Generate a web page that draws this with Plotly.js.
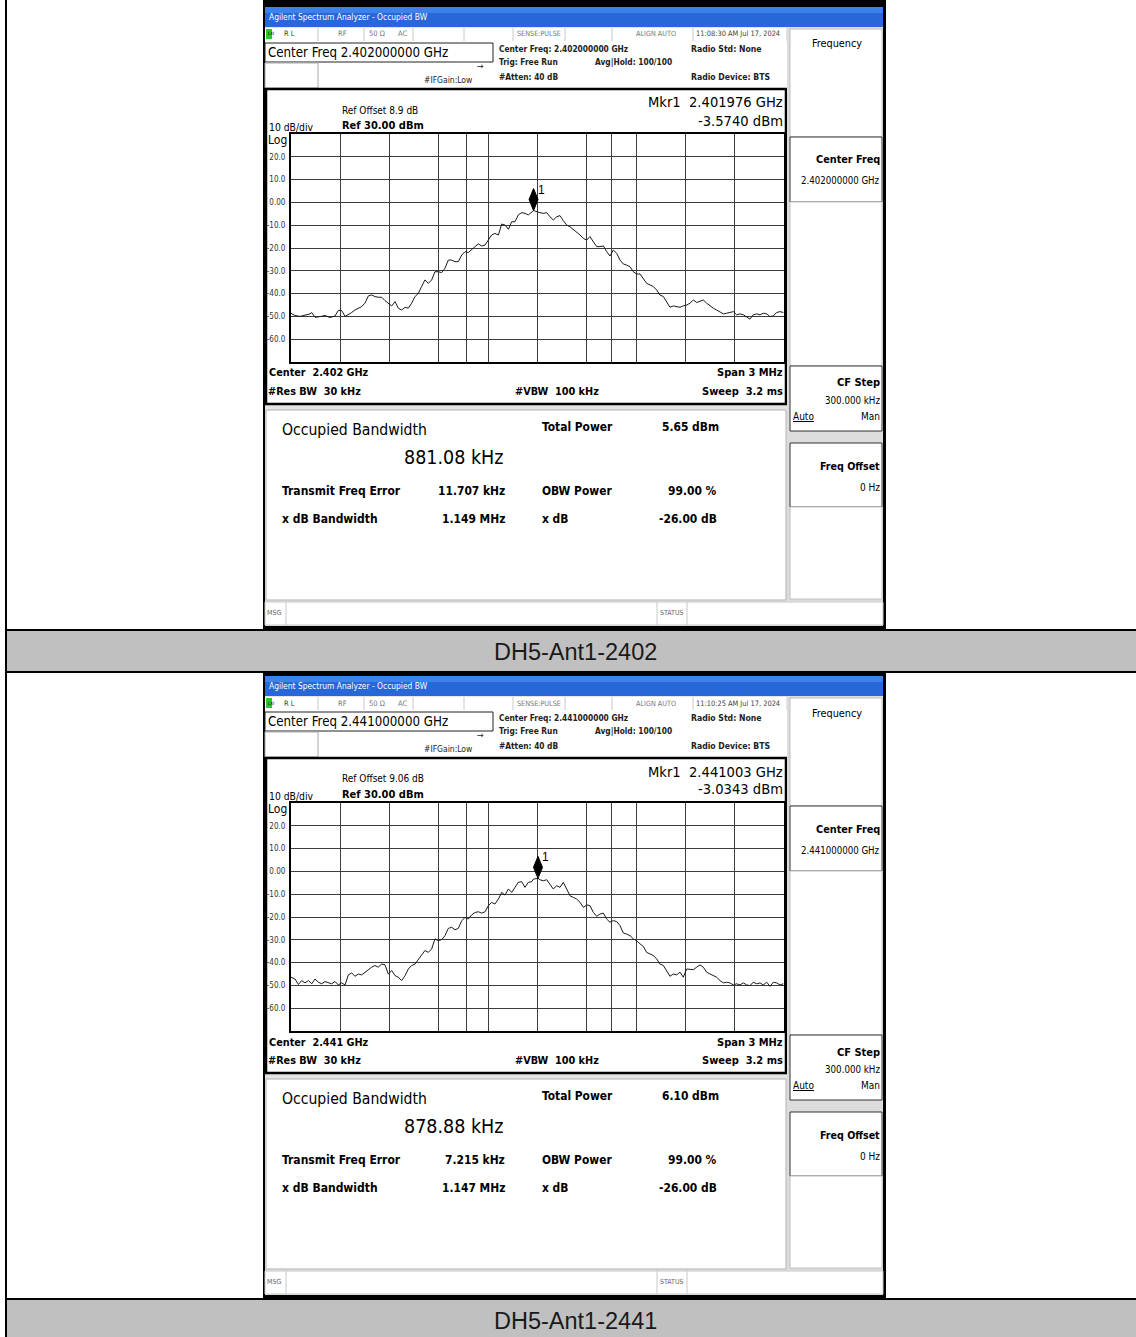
<!DOCTYPE html>
<html><head><meta charset="utf-8">
<script src="https://cdn.plot.ly/plotly-3.0.1.min.js"></script>
<style>html,body{margin:0;padding:0;background:#fff}#chart{width:1136px;height:1337px}</style>
</head><body><div id="chart"></div>
<script>
// ---------------- DATA ----------------
const captions = ['DH5-Ant1-2402', 'DH5-Ant1-2441'];
const centerFreqMHz = [2402, 2441];
const centerFreqText = ['2.402000000 GHz', '2.441000000 GHz'];
const centerShortText = ['2.402 GHz', '2.441 GHz'];
const timestamps = ['11:08:30 AM Jul 17, 2024', '11:10:25 AM Jul 17, 2024'];
const refOffsetText = ['8.9 dB', '9.06 dB'];
const markerFreqGHz = [2.401976, 2.441003];
const markerLevelDbm = [-3.5740, -3.0343];
const totalPowerDbm = [5.65, 6.10];
const occupiedBwKHz = [881.08, 878.88];
const freqErrorKHz = [11.707, 7.215];
const xdbBandwidthMHz = [1.149, 1.147];
const obwPowerPct = [99.00, 99.00];
const xdbValue = [-26.00, -26.00];
const spanMHz = 3;
const refLevelDbm = 30;
const dbPerDiv = 10;
const yTickVals = [20, 10, 0, -10, -20, -30, -40, -50, -60];
const yTickText = ['20.0', '10.0', '0.00', '-10.0', '-20.0', '-30.0', '-40.0', '-50.0', '-60.0'];

const offsetsKHz1 = [-1500,-1476,-1445,-1415,-1384,-1374,-1354,-1324,-1293,-1263,-1232,-1212,-1192,-1171,-1151,-1131,-1111,-1090,-1070,-1050,-1029,-1009,-989,-969,-948,-928,-908,-887,-867,-847,-827,-806,-786,-766,-745,-725,-705,-685,-664,-644,-624,-604,-583,-563,-543,-522,-502,-482,-461,-441,-421,-401,-380,-360,-340,-319,-299,-279,-259,-238,-218,-198,-177,-157,-137,-117,-96,-76,-56,-35,-24,-15,
 -5,15,35,56,76,96,117,137,157,177,198,218,238,259,279,299,319,340,360,380,401,421,441,461,482,502,522,543,563,583,603,624,644,664,685,705,725,745,766,786,806,827,847,867,887,908,928,948,969,989,1009,1029,1050,1070,1090,1111,1131,1151,1171,1192,1212,1232,1253,1273,1293,1313,1334,1354,1374,1395,1415,1435,1455,1476,1496];
const levels1 = [-48.6,-49.6,-50.0,-49.3,-48.9,-48.3,-50.4,-50.1,-49.6,-50.5,-49.8,-47.4,-47.4,-50.0,-49.3,-48.3,-47.2,-46.4,-45.7,-44.2,-41.0,-40.6,-41.3,-41.6,-41.6,-43.1,-44.2,-45.4,-43.5,-46.4,-47.2,-46.0,-46.4,-44.2,-41.3,-39.9,-36.9,-34.0,-35.5,-34.0,-30.4,-30.4,-30.8,-28.9,-25.3,-25.3,-26.0,-26.0,-23.1,-21.6,-22.0,-20.9,-19.4,-18.2,-19.1,-18.7,-16.5,-14.3,-13.6,-14.3,-9.5,-9.9,-11.8,-8.5,-8.5,-5.5,-4.5,-4.8,-5.5,-4.1,-3.57,-3.8,
 -4.1,-4.5,-4.8,-4.5,-6.3,-7.7,-6.3,-5.8,-8.0,-9.9,-10.7,-11.8,-12.9,-14.3,-15.8,-16.5,-15.0,-17.2,-19.4,-19.4,-19.1,-21.6,-23.5,-20.9,-22.3,-25.3,-27.0,-27.5,-28.2,-30.4,-31.4,-31.4,-33.3,-35.5,-36.2,-36.9,-38.4,-40.6,-41.3,-43.5,-46.0,-45.4,-45.7,-46.0,-45.4,-45.0,-44.2,-42.8,-43.9,-43.5,-42.8,-44.2,-45.4,-46.4,-47.2,-47.9,-48.9,-48.6,-48.3,-47.9,-49.3,-48.9,-49.3,-50.4,-51.2,-49.3,-48.9,-49.3,-48.6,-48.9,-50.1,-49.8,-48.3,-47.9,-48.3];

const offsetsKHz2 = [-1500,-1476,-1455,-1435,-1415,-1394,-1374,-1354,-1334,-1313,-1293,-1273,-1253,-1232,-1212,-1192,-1171,-1151,-1131,-1111,-1090,-1070,-1050,-1029,-1009,-989,-969,-948,-928,-908,-887,-867,-847,-827,-806,-786,-766,-745,-725,-705,-685,-664,-644,-624,-604,-583,-563,-543,-522,-502,-482,-461,-441,-421,-401,-380,-360,-340,-319,-299,-279,-259,-238,-218,-198,-177,-157,-137,-117,-96,-76,-56,-35,
 -25,-5,3,
 15,35,56,76,96,117,137,157,177,198,218,238,259,279,299,319,340,360,380,401,421,441,461,482,502,522,543,563,583,603,624,644,664,685,705,725,745,766,786,806,827,847,867,887,908,928,948,969,989,1009,1029,1050,1070,1090,1111,1131,1151,1171,1192,1212,1232,1253,1273,1293,1313,1334,1354,1374,1395,1415,1435,1455,1476,1496];
const levels2 = [-46.4,-47.2,-49.6,-47.9,-48.9,-47.9,-49.3,-47.2,-48.6,-49.3,-48.3,-48.9,-49.3,-48.3,-49.8,-48.9,-49.8,-45.4,-44.5,-46.0,-45.0,-45.4,-44.2,-42.8,-42.0,-41.3,-42.0,-40.6,-41.0,-45.0,-43.5,-45.7,-46.4,-47.9,-45.7,-42.8,-41.3,-40.6,-38.7,-36.9,-34.7,-35.5,-34.0,-29.6,-30.4,-29.9,-28.2,-25.0,-24.5,-25.6,-25.0,-21.6,-20.2,-20.9,-19.1,-18.0,-17.7,-18.3,-17.7,-15.0,-13.6,-14.3,-12.1,-9.2,-10.4,-7.7,-9.2,-7.0,-4.8,-4.5,-7.0,-4.8,-4.5,
 -3.4,-3.2,-3.03,
 -3.65,-4.1,-3.65,-5.55,-7.7,-6.3,-7.0,-4.8,-7.7,-10.7,-11.4,-12.1,-13.6,-15.8,-14.7,-15.0,-18.0,-19.7,-18.7,-18.3,-20.9,-22.3,-21.6,-22.0,-23.8,-27.0,-27.5,-28.2,-29.6,-30.4,-31.8,-32.9,-35.5,-36.2,-36.9,-38.4,-40.6,-41.3,-43.5,-46.0,-45.0,-45.4,-44.2,-46.4,-42.8,-42.8,-43.1,-42.0,-41.0,-42.0,-44.2,-45.0,-45.7,-46.4,-47.9,-48.9,-48.6,-48.9,-49.8,-49.3,-49.8,-48.9,-49.8,-50.1,-48.6,-49.3,-48.9,-49.8,-48.6,-50.4,-48.6,-48.9,-49.8,-49.3];

const offsetsList = [offsetsKHz1, offsetsKHz2];
const levelsList = [levels1, levels2];

// ---------------- LAYOUT HELPERS ----------------
const W = 1136, H = 1337, PANEL_DY = 669;
const X = p => p / W;
const Y = p => 1 - p / H;
const NARROW = "'DejaVu Sans Condensed','Liberation Sans',Arial,sans-serif";
const ARIAL = "'Liberation Sans',Arial,sans-serif";
const gridFractions = [0.1, 0.2, 0.3, 0.355, 0.4, 0.5, 0.6, 0.65, 0.7, 0.8, 0.9];

const shapes = [];
const annotations = [];
function R(x0, y0, x1, y1, fill, lc, lw, layer) {
  shapes.push({type:'rect', xref:'paper', yref:'paper', x0:X(x0), x1:X(x1), y0:Y(y1), y1:Y(y0),
    fillcolor: fill || 'rgba(0,0,0,0)', line:{color: lc || 'rgba(0,0,0,0)', width: lw || 0}, layer: layer || 'below'});
}
function L(x0, y0, x1, y1, c, w, layer) {
  shapes.push({type:'line', xref:'paper', yref:'paper', x0:X(x0), x1:X(x1), y0:Y(y0), y1:Y(y1),
    line:{color:c, width:w}, layer: layer || 'below'});
}
function T(x, y, text, size, anchor, opt) {
  opt = opt || {};
  annotations.push({xref:'paper', yref:'paper', x:X(x), y:Y(y), text:text, showarrow:false,
    xanchor: anchor || 'left', yanchor:'middle', borderpad:0,
    font:{family: opt.family || NARROW, size:size, color: opt.color || '#000'}});
}

// ---------------- TABLE ----------------
R(0, 0, W, H, '#ffffff');
[0, 1].forEach(i => {
  const capTop = 629 + i * PANEL_DY;
  R(6, capTop, W, capTop + 44, '#c0c0c0');
  L(6, capTop + 1, W, capTop + 1, '#000', 2);
  L(6, capTop + 43, W, capTop + 43, '#000', 2);
  T(575, capTop + 23, captions[i], 23.5, 'center', {family: ARIAL, color:'#1a1a1a'});
});
L(6, 0, 6, H, '#000', 2);

// ---------------- SCREENSHOT PANELS ----------------
function fmt(v, n) { return v.toFixed(n); }
function panel(i) {
  const d = i * PANEL_DY;
  const y = v => v + d;
  const top = i === 0 ? 0 : 673;
  // outer frame
  R(263, top, 886, y(629), '#000');
  R(265, y(7), 883, y(626), '#e4e4e4');
  // title bar
  R(265, y(7), 883, y(27), '#2767d8');
  R(265, y(7), 883, y(13), '#3d82ea');
  T(268, y(17), 'Agilent Spectrum Analyzer - Occupied BW', 8.4, 'left', {color:'#ffffff'});
  // status row
  R(265, y(28), 787, y(41), '#ffffff');
  [318, 364, 413, 464, 513, 565, 612, 693, 787].forEach(xx => L(xx, y(28), xx, y(41), '#c8c8c8', 1));
  R(266, y(29), 272, y(39), '#22cc22');
  T(266.5, y(34), 'LXI', 4.5, 'left', {color:'#000'});
  T(283, y(34), 'R L', 7.5, 'left', {color:'#444'});
  T(337, y(34), 'RF', 7.5, 'left', {color:'#777'});
  T(368, y(34), '50 Ω', 7.5, 'left', {color:'#777'});
  T(397, y(34), 'AC', 7.5, 'left', {color:'#777'});
  T(516, y(34), 'SENSE:PULSE', 7.2, 'left', {color:'#777'});
  T(635, y(34), 'ALIGN AUTO', 7.2, 'left', {color:'#777'});
  T(695, y(34), timestamps[i], 7.4, 'left', {color:'#444'});
  // settings area
  R(265, y(41), 787, y(88), '#ffffff');
  R(265, y(43), 493, y(62), '#ffffff', '#222', 1);
  R(265, y(63), 318, y(88), '#ffffff', '#aaa', 1);
  T(267, y(52), 'Center Freq ' + centerFreqText[i], 13.2, 'left');
  T(498, y(49), '<b>Center Freq: ' + centerFreqText[i] + '</b>', 8.3, 'left', {color:'#222'});
  T(498, y(62), '<b>Trig: Free Run</b>', 8.3, 'left', {color:'#222'});
  T(594, y(62), '<b>Avg|Hold: 100/100</b>', 8.3, 'left', {color:'#222'});
  T(498, y(77), '<b>#Atten: 40 dB</b>', 8.3, 'left', {color:'#222'});
  T(423, y(80), '#IFGain:Low', 8.5, 'left', {color:'#222'});
  T(476, y(66), '→', 9, 'left', {color:'#222'});
  T(690, y(49), '<b>Radio Std: None</b>', 8.6, 'left', {color:'#222'});
  T(690, y(77), '<b>Radio Device: BTS</b>', 8.6, 'left', {color:'#222'});
  // display panel
  R(266, y(89), 786, y(404), '#ffffff', '#000', 2.5);
  T(341, y(110), 'Ref Offset ' + refOffsetText[i], 10, 'left');
  T(268, y(127), '10 dB/div', 10.3, 'left');
  T(341, y(125), '<b>Ref ' + fmt(refLevelDbm, 2) + ' dBm</b>', 11, 'left');
  T(267, y(140), 'Log', 12, 'left');
  T(784, y(102), 'Mkr1  ' + fmt(markerFreqGHz[i], 6) + ' GHz', 14.6, 'right');
  T(784, y(120), fmt(markerLevelDbm[i], 4) + ' dBm', 14.6, 'right');
  T(268, y(373), '<b>Center  ' + centerShortText[i] + '</b>', 10.8, 'left');
  T(784, y(373), '<b>Span ' + spanMHz + ' MHz</b>', 11, 'right');
  T(267, y(391), '<b>#Res BW  30 kHz</b>', 10.8, 'left');
  T(557, y(391), '<b>#VBW  100 kHz</b>', 10.8, 'center');
  T(784, y(391), '<b>Sweep  3.2 ms</b>', 11, 'right');
  // results panel
  R(266, y(410), 786, y(600), '#ffffff', '#b0b0b0', 1);
  T(281, y(430), 'Occupied Bandwidth', 15.6, 'left');
  T(505, y(457), fmt(occupiedBwKHz[i], 2) + ' kHz', 19.5, 'right');
  T(541, y(427), '<b>Total Power</b>', 11.9, 'left');
  T(661, y(427), '<b>' + fmt(totalPowerDbm[i], 2) + ' dBm</b>', 11.9, 'left');
  T(281, y(491), '<b>Transmit Freq Error</b>', 12, 'left');
  T(506, y(491), '<b>' + fmt(freqErrorKHz[i], 3) + ' kHz</b>', 11.9, 'right');
  T(541, y(491), '<b>OBW Power</b>', 11.9, 'left');
  T(718, y(491), '<b>' + fmt(obwPowerPct[i], 2) + ' %</b>', 11.9, 'right');
  T(281, y(519), '<b>x dB Bandwidth</b>', 12, 'left');
  T(506, y(519), '<b>' + fmt(xdbBandwidthMHz[i], 3) + ' MHz</b>', 11.9, 'right');
  T(541, y(519), '<b>x dB</b>', 11.9, 'left');
  T(718, y(519), '<b>' + fmt(xdbValue[i], 2) + ' dB</b>', 11.9, 'right');
  // status bar
  R(265, y(602), 883, y(625), '#ffffff', '#c8c8c8', 1);
  L(286, y(602), 286, y(625), '#c8c8c8', 1);
  L(657, y(602), 657, y(625), '#c8c8c8', 1);
  L(687, y(602), 687, y(625), '#c8c8c8', 1);
  T(266, y(613), 'MSG', 7, 'left', {color:'#666'});
  T(659, y(613), 'STATUS', 7, 'left', {color:'#666'});
  // soft-key panel
  R(787, y(27), 883, y(601), '#dcdcdc');
  R(790, y(29), 882, y(137), '#ffffff', '#c0c0c0', 1);
  R(790, y(137), 882, y(202), '#ffffff', '#333', 1);
  R(790, y(202), 882, y(366), '#ffffff', '#c0c0c0', 1);
  R(790, y(366), 882, y(431), '#ffffff', '#333', 1);
  R(790, y(443), 882, y(507), '#ffffff', '#333', 1);
  R(790, y(507), 882, y(599), '#ffffff', '#c0c0c0', 1);
  T(837, y(44), 'Frequency', 10.8, 'center');
  T(881, y(160), '<b>Center Freq</b>', 10.8, 'right');
  T(881, y(181), centerFreqText[i], 9.6, 'right');
  T(881, y(383), '<b>CF Step</b>', 11, 'right');
  T(881, y(400), '300.000 kHz', 9.7, 'right');
  T(792, y(416), '<u>Auto</u>', 10, 'left');
  T(881, y(416), 'Man', 10, 'right');
  T(881, y(466), '<b>Freq Offset</b>', 10.6, 'right');
  T(881, y(487), '0 Hz', 10, 'right');
}
panel(0); panel(1);

// ---------------- TRACES & AXES ----------------
const traces = [];
const layout = {width:W, height:H, margin:{l:0, r:0, t:0, b:0}, paper_bgcolor:'#ffffff',
  plot_bgcolor:'rgba(0,0,0,0)', showlegend:false, shapes:shapes, annotations:annotations};
[0, 1].forEach(i => {
  const d = i * PANEL_DY;
  const c = centerFreqMHz[i];
  const xs = offsetsList[i].map(o => c + o / 1000);
  const sfx = i === 0 ? '' : '2';
  traces.push({type:'scatter', mode:'lines', x:xs, y:levelsList[i], xaxis:'x' + sfx, yaxis:'y' + sfx,
    line:{color:'#1a1a1a', width:1}, hoverinfo:'skip'});
  const mx = markerFreqGHz[i] * 1000, my = markerLevelDbm[i];
  shapes.push({type:'path', xref:'x' + sfx, yref:'y' + sfx, xsizemode:'pixel', ysizemode:'pixel',
    xanchor:mx, yanchor:my, path:'M0,0 L-4.5,11 L0,22 L4.5,11 Z', fillcolor:'#000', line:{color:'#000', width:1}, layer:'above'});
  annotations.push({xref:'x' + sfx, yref:'y' + sfx, x:mx, y:my, text:'1', showarrow:false,
    xshift:8, yshift:21, font:{family:ARIAL, size:12, color:'#000'}});
  const ax = {range:[c - spanMHz / 2, c + spanMHz / 2], tickvals:gridFractions.map(f => c - spanMHz / 2 + f * spanMHz),
    showticklabels:false, showgrid:true, gridcolor:'#3c3c3c', gridwidth:1, showline:true, mirror:true,
    linecolor:'#000', linewidth:2, zeroline:false, ticks:'', fixedrange:true,
    domain:[X(291), X(784)], anchor:'y' + sfx};
  const ay = {range:[refLevelDbm - 10 * dbPerDiv, refLevelDbm], tickvals:yTickVals, ticktext:yTickText,
    tickfont:{family:NARROW, size:8, color:'#333'}, showgrid:true, gridcolor:'#3c3c3c', gridwidth:1,
    showline:true, mirror:true, linecolor:'#000', linewidth:2, zeroline:false, ticks:'', fixedrange:true,
    ticklabelstandoff:2, domain:[Y(362 + d), Y(134 + d)], anchor:'x' + sfx};
  layout['xaxis' + sfx] = ax;
  layout['yaxis' + sfx] = ay;
});
Plotly.newPlot('chart', traces, layout, {staticPlot:true, displayModeBar:false});
</script></body></html>
